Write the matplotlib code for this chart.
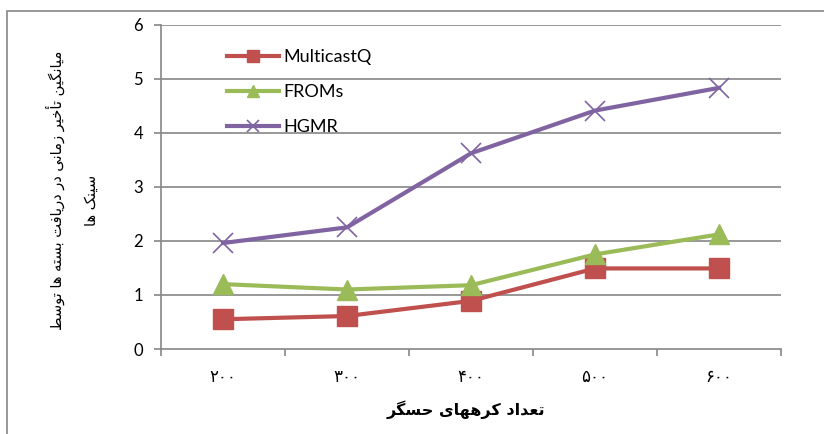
import matplotlib.pyplot as plt
from matplotlib.patches import Rectangle

# ---------------- data ----------------
categories = ["۲۰۰", "۳۰۰", "۴۰۰", "۵۰۰", "۶۰۰"]
multicastq = [0.55, 0.61, 0.89, 1.49, 1.49]
froms = [1.20, 1.10, 1.18, 1.75, 2.12]
hgmr = [1.96, 2.25, 3.62, 4.41, 4.83]
y_ticks = [0, 1, 2, 3, 4, 5, 6]

x_title = "تعداد کرههای حسگر"
y_title_1 = "میانگین تأخیر زمانی در دریافت بسته ها توسط"
y_title_2 = "سینک ها"

# ---------------- tiny persian shaper (matplotlib has no shaping) ----------------
# letter: (isolated, final, initial, medial); None for right-joining only
FORMS = {
    "ا": (0xFE8D, 0xFE8E, None, None),
    "أ": (0xFE83, 0xFE84, None, None),
    "ب": (0xFE8F, 0xFE90, 0xFE91, 0xFE92),
    "ت": (0xFE95, 0xFE96, 0xFE97, 0xFE98),
    "ح": (0xFEA1, 0xFEA2, 0xFEA3, 0xFEA4),
    "خ": (0xFEA5, 0xFEA6, 0xFEA7, 0xFEA8),
    "د": (0xFEA9, 0xFEAA, None, None),
    "ر": (0xFEAD, 0xFEAE, None, None),
    "ز": (0xFEAF, 0xFEB0, None, None),
    "س": (0xFEB1, 0xFEB2, 0xFEB3, 0xFEB4),
    "ط": (0xFEC1, 0xFEC2, 0xFEC3, 0xFEC4),
    "ع": (0xFEC9, 0xFECA, 0xFECB, 0xFECC),
    "ف": (0xFED1, 0xFED2, 0xFED3, 0xFED4),
    "م": (0xFEE1, 0xFEE2, 0xFEE3, 0xFEE4),
    "ن": (0xFEE5, 0xFEE6, 0xFEE7, 0xFEE8),
    "ه": (0xFEE9, 0xFEEA, 0xFEEB, 0xFEEC),
    "و": (0xFEED, 0xFEEE, None, None),
    "ی": (0xFBFC, 0xFBFD, 0xFBFE, 0xFBFF),
    "ک": (0xFB8E, 0xFB8F, 0xFB90, 0xFB91),
    "گ": (0xFB92, 0xFB93, 0xFB94, 0xFB95),
}


def joins_next(ch):
    return ch in FORMS and FORMS[ch][2] is not None


def shape(text):
    out = []
    for i, ch in enumerate(text):
        if ch not in FORMS:
            out.append(ch)
            continue
        prev_joins = i > 0 and joins_next(text[i - 1])
        next_joins = joins_next(ch) and i + 1 < len(text) and text[i + 1] in FORMS
        iso, fin, ini, med = FORMS[ch]
        if prev_joins and next_joins:
            code = med
        elif prev_joins:
            code = fin
        elif next_joins:
            code = ini
        else:
            code = iso
        out.append(chr(code))
    return "".join(out)[::-1]


# ---------------- plot ----------------
red = "#C0504D"
green = "#9BBB59"
purple = "#8064A2"
gray = "#868686"

fig = plt.figure(figsize=(8.24, 4.34), dpi=100)
ax = fig.add_axes([161 / 824, 1 - 349 / 434, 620 / 824, (349 - 24.6) / 434])

x = list(range(len(categories)))
ax.plot(x, multicastq, color=red, lw=3, marker="s", ms=14, label="MulticastQ")
ax.plot(x, froms, color=green, lw=3, marker="^", ms=15, label="FROMs")
ax.plot(x, hgmr, color=purple, lw=3, marker="x", ms=14, mew=1.2, label="HGMR")

ax.set_xlim(-0.5, len(categories) - 0.5)
ax.set_ylim(0, 6)
ax.set_yticks(y_ticks)
ax.set_yticklabels([str(v) for v in y_ticks], fontsize=12, family="Lato")
for v in y_ticks[1:]:
    ax.axhline(v, color=gray, lw=1.2, zorder=0)

ax.set_xticks(x)
ax.set_xticklabels(categories, fontsize=12, family="DejaVu Sans")
ax.set_xticks([i - 0.5 for i in range(len(categories) + 1)], minor=True)
ax.tick_params(axis="x", which="major", length=0, pad=14)
ax.tick_params(axis="x", which="minor", length=5, color=gray, width=1.2)
ax.tick_params(axis="y", length=5, color=gray, width=1.2, pad=8)

for side in ["top", "right"]:
    ax.spines[side].set_visible(False)
for side in ["left", "bottom"]:
    ax.spines[side].set_color(gray)
    ax.spines[side].set_linewidth(1.2)

leg = ax.legend(loc="upper left", bbox_to_anchor=(0.08, 0.975), frameon=False,
                prop={"family": "Lato", "size": 13}, handlelength=2.9,
                handletextpad=0.25, labelspacing=1.05, markerscale=0.6)

fig.text(466 / 824, 1 - 410 / 434, shape(x_title), ha="center", va="center",
         fontsize=11.5, fontweight="bold", family="DejaVu Sans")
fig.text(55 / 824, 1 - 190 / 434, shape(y_title_1), rotation=90, ha="center",
         va="center", fontsize=10.5, family="DejaVu Sans")
fig.text(91 / 824, 1 - 200 / 434, shape(y_title_2), rotation=90, ha="center",
         va="center", fontsize=10.5, family="DejaVu Sans")

# outer chart border
fig.patches.append(Rectangle((7 / 824, -0.1), 1.2, 1 - 11 / 434 + 0.1,
                             transform=fig.transFigure, fill=False,
                             edgecolor=gray, lw=1.2))

fig.savefig("out.png", dpi=100)
